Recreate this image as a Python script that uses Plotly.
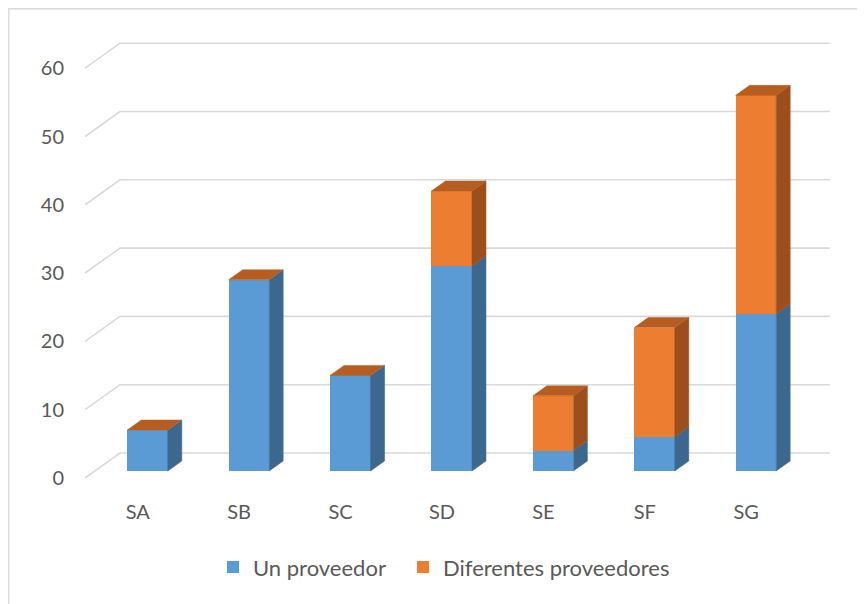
import plotly.graph_objects as go

# ---- data ----
categories = ["SA", "SB", "SC", "SD", "SE", "SF", "SG"]
un_proveedor = [6, 28, 14, 30, 3, 5, 23]
diferentes_proveedores = [0, 0, 0, 11, 8, 16, 32]
y_ticks = [0, 10, 20, 30, 40, 50, 60]

# ---- styling / 3D geometry ----
BLUE, BLUE_SIDE = "#5B9BD5", "#3C6890"
ORANGE, ORANGE_SIDE, ORANGE_TOP = "#ED7D31", "#9B4F1D", "#B65E21"
GRID = "#D9D9D9"
TXT = "#595959"
FONT = "Lato"

ML, MT, PW, PH = 77, 22, 750, 448    # plot area (px)
FIG_W, FIG_H = 865, 604

FLOOR_DX, FLOOR_DY = 0.345, 3.66   # depth of the floor in axis units
T_FRONT, T_BACK = 0.28, 0.68       # bar front/back position in depth
BAR_W = 0.40
X_LEFT = -0.52
X_RIGHT_BACK = X_LEFT + FLOOR_DX + len(categories)

fdx, fdy = T_FRONT * FLOOR_DX, T_FRONT * FLOOR_DY
sdx, sdy = (T_BACK - T_FRONT) * FLOOR_DX, (T_BACK - T_FRONT) * FLOOR_DY

xs = [i + fdx for i in range(len(categories))]
base_blue = [fdy] * len(categories)
base_orange = [fdy + b for b in un_proveedor]

fig = go.Figure()

fig.add_trace(go.Bar(x=xs, y=un_proveedor, base=base_blue, width=BAR_W,
                     marker=dict(color=BLUE, line=dict(width=0)),
                     name="Un proveedor", hoverinfo="skip", legend="legend"))
fig.add_trace(go.Bar(x=xs, y=diferentes_proveedores, base=base_orange, width=BAR_W,
                     marker=dict(color=ORANGE, line=dict(width=0)),
                     name="Diferentes proveedores", hoverinfo="skip", legend="legend2"))


def poly(px, py, color):
    fig.add_trace(go.Scatter(x=px + [px[0]], y=py + [py[0]], fill="toself",
                             fillcolor=color, mode="lines",
                             line=dict(color=color, width=0.5),
                             showlegend=False, hoverinfo="skip"))


for i, xc in enumerate(xs):
    xl, xr = xc - BAR_W / 2, xc + BAR_W / 2
    b0 = fdy
    b1 = b0 + un_proveedor[i]
    b2 = b1 + diferentes_proveedores[i]
    poly([xr, xr + sdx, xr + sdx, xr], [b0, b0 + sdy, b1 + sdy, b1], BLUE_SIDE)
    if diferentes_proveedores[i] > 0:
        poly([xr, xr + sdx, xr + sdx, xr], [b1, b1 + sdy, b2 + sdy, b2], ORANGE_SIDE)
    poly([xl, xr, xr + sdx, xl + sdx], [b2, b2, b2 + sdy, b2 + sdy], ORANGE_TOP)

# perspective gridlines (below traces)
shapes = []
for v in y_ticks:
    path = (f"M {X_LEFT},{v} L {X_LEFT + FLOOR_DX},{v + FLOOR_DY} "
            f"L {X_RIGHT_BACK},{v + FLOOR_DY}")
    shapes.append(dict(type="path", path=path, xref="x", yref="y",
                       line=dict(color=GRID, width=1.6), layer="below"))

# chart border (top and left visible)
shapes.append(dict(type="rect", xref="paper", yref="paper",
                   x0=(0.8 - ML) / PW, x1=(FIG_W + 10 - ML) / PW,
                   y0=(MT + PH - FIG_H - 10) / PH, y1=(MT + PH - 0.8) / PH,
                   line=dict(color=GRID, width=1.4), layer="below"))

legend_font = dict(family=FONT, size=22, color=TXT)

fig.update_layout(
    width=FIG_W, height=FIG_H, autosize=False,
    margin=dict(l=ML, r=FIG_W - ML - PW, t=MT, b=FIG_H - MT - PH),
    paper_bgcolor="white", plot_bgcolor="white",
    barmode="overlay", bargap=0,
    font=dict(family=FONT, size=20, color=TXT),
    shapes=shapes,
    showlegend=True,
    legend=dict(orientation="h", x=(213 - 8 - ML) / PW, xanchor="left",
                y=-0.199, yanchor="middle", font=legend_font),
    legend2=dict(orientation="h", x=(403 - 8 - ML) / PW, xanchor="left",
                 y=-0.199, yanchor="middle", font=legend_font),
    xaxis=dict(range=[X_LEFT, X_LEFT + PW / 101.4], showgrid=False, zeroline=False,
               showline=False, tickmode="array", tickvals=list(range(len(categories))),
               ticktext=categories, ticks="", ticklabelstandoff=20,
               tickfont=dict(family=FONT, size=20, color=TXT), fixedrange=True),
    yaxis=dict(range=[0, PH / 6.83], showgrid=False, zeroline=False, showline=False,
               tickmode="array", tickvals=y_ticks, ticks="", ticklabelstandoff=20,
               tickfont=dict(family=FONT, size=20, color=TXT), fixedrange=True),
)

fig.write_html("out.html")
